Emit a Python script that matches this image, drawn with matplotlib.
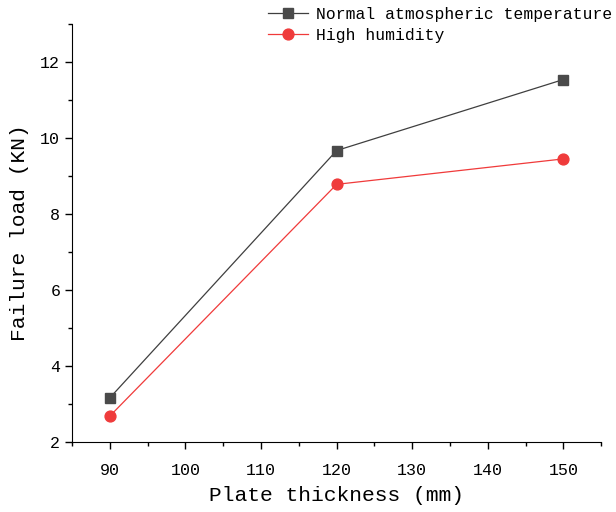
import numpy as np
import matplotlib
matplotlib.use('Agg')
import matplotlib.pyplot as plt
from matplotlib.ticker import MultipleLocator

# data
thickness = [90, 120, 150]
load_normal = [3.16, 9.67, 11.54]
load_humid = [2.68, 8.78, 9.45]
names = ['Normal atmospheric temperature', 'High humidity']

plt.rcParams['font.family'] = ['Liberation Mono', 'DejaVu Sans Mono']

fig = plt.figure(figsize=(6.16, 5.12), dpi=100)
ax = fig.add_axes([0.117, 0.137, 0.859, 0.816])

ax.plot(thickness, load_normal, color='#3f3f3f', lw=0.9, marker='s',
        ms=6.5, mfc='#4a4a4a', mec='#4a4a4a', label=names[0])
ax.plot(thickness, load_humid, color='#f03a3a', lw=0.9, marker='o',
        ms=7.8, mfc='#ef3b3b', mec='#ef3b3b', label=names[1])

ax.set_xlim(85, 155)
ax.set_ylim(2, 13)
ax.xaxis.set_major_locator(MultipleLocator(10))
ax.xaxis.set_minor_locator(MultipleLocator(5))
ax.yaxis.set_major_locator(MultipleLocator(2))
ax.yaxis.set_minor_locator(MultipleLocator(1))
ax.spines['top'].set_visible(False)
ax.spines['right'].set_visible(False)
ax.tick_params(which='major', direction='out', length=5, width=1, labelsize=12)
ax.tick_params(which='minor', direction='out', length=3, width=1)
ax.tick_params(axis='x', which='major', pad=10)

ax.set_xlabel('Plate thickness (mm)', fontsize=15.3, labelpad=6)
ax.set_ylabel('Failure load (KN)', fontsize=15.3, labelpad=8)

fig.legend(loc='upper left', bbox_to_anchor=(268 / 616, 1 - 7 / 512), frameon=False,
           fontsize=11.8, handlelength=2.45, handletextpad=0.5, labelspacing=0.35,
           borderpad=0, borderaxespad=0)

fig.savefig('out.png', dpi=100)
